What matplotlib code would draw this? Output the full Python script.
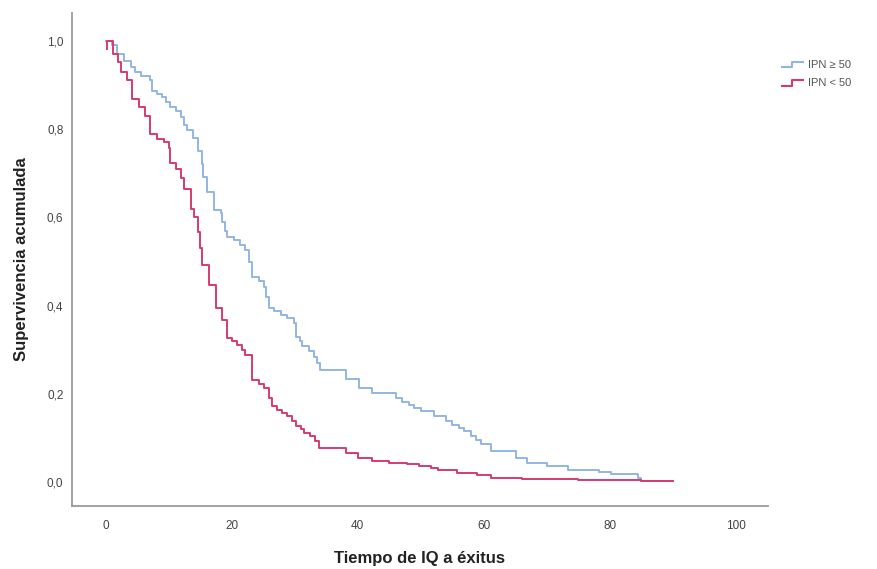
import numpy as np
import matplotlib
matplotlib.use('Agg')
import matplotlib.pyplot as plt
from matplotlib.lines import Line2D
from matplotlib.legend_handler import HandlerBase
from matplotlib import rcParams

rcParams['font.family'] = ['Liberation Sans', 'DejaVu Sans']

# Kaplan-Meier steps (time, survival after the step)
t_hi = [0, 1.0, 1.85, 2.9, 4.0, 4.6, 5.6, 7.1, 7.4, 8.2, 9.0, 9.6, 10.3, 11.2,
        11.9, 12.4, 13.0, 13.8, 14.6, 15.3, 15.5, 16.1, 17.2, 18.3, 18.5,
        19.0, 19.3, 20.4, 21.4, 22.2, 22.8, 23.3, 24.3, 25.1, 25.5, 25.9,
        26.7, 27.8, 28.8, 29.9, 30.2, 30.8, 31.2, 32.3, 33.1, 33.6, 34.1,
        38.1, 40.2, 42.3, 46.0, 47.0, 48.1, 49.0, 50.0, 52.1, 54.0, 55.0,
        56.0, 56.9, 58.0, 58.7, 59.5, 61.1, 65.1, 66.9, 70.1, 73.3, 78.3,
        80.2, 84.4, 85.0, 90.0]
s_hi = [1.0, 0.989, 0.97, 0.955, 0.94, 0.93, 0.92, 0.91, 0.887, 0.88, 0.872,
        0.862, 0.85, 0.84, 0.827, 0.81, 0.797, 0.78, 0.75, 0.72, 0.692,
        0.658, 0.616, 0.609, 0.59, 0.57, 0.556, 0.549, 0.537, 0.526, 0.50,
        0.466, 0.455, 0.443, 0.42, 0.394, 0.387, 0.379, 0.372, 0.36, 0.33,
        0.32, 0.308, 0.297, 0.285, 0.27, 0.255, 0.233, 0.214, 0.203, 0.191,
        0.183, 0.176, 0.168, 0.161, 0.15, 0.14, 0.131, 0.124, 0.116, 0.105,
        0.097, 0.088, 0.071, 0.056, 0.044, 0.038, 0.029, 0.023, 0.018, 0.01,
        0.004, 0.004]

t_lo = [0.26, 0.26, 1.15, 1.95, 2.4, 3.4, 4.2, 5.3, 6.3, 7.1, 8.2, 9.3, 10.0,
        10.3, 11.1, 12.0, 12.4, 13.5, 14.0, 14.6, 15.0, 15.3, 16.4, 17.5,
        18.5, 19.3, 20.1, 20.9, 21.7, 22.2, 23.3, 24.3, 25.1, 26.0, 26.4,
        27.2, 28.0, 28.8, 29.6, 30.2, 31.0, 31.5, 32.5, 33.3, 33.9, 38.1,
        40.0, 42.3, 45.0, 47.9, 49.7, 51.6, 52.7, 55.8, 59.0, 61.1, 66.0,
        75.0, 85.0, 90.0]
s_lo = [0.98, 1.0, 0.97, 0.951, 0.929, 0.91, 0.868, 0.85, 0.83, 0.789, 0.778,
        0.77, 0.756, 0.722, 0.71, 0.69, 0.665, 0.62, 0.60, 0.567, 0.53,
        0.492, 0.447, 0.394, 0.368, 0.327, 0.319, 0.312, 0.30, 0.289, 0.232,
        0.222, 0.214, 0.19, 0.172, 0.165, 0.158, 0.15, 0.14, 0.127, 0.12,
        0.113, 0.105, 0.093, 0.079, 0.067, 0.056, 0.048, 0.045, 0.041,
        0.037, 0.033, 0.029, 0.022, 0.016, 0.011, 0.008, 0.006, 0.003, 0.003]

labels = ['IPN \u2265 50', 'IPN < 50']
colors = ['#92b5e4', '#d63a72']


class StepHandler(HandlerBase):
    # little step symbol like the SPSS legend
    def create_artists(self, legend, orig_handle, xdescent, ydescent,
                       width, height, fontsize, trans):
        x0 = -xdescent
        xm = x0 + width * 0.45
        y0 = -ydescent + height * 0.1
        y1 = -ydescent + height * 0.75
        ln = Line2D([x0, xm, xm, x0 + width], [y0, y0, y1, y1],
                    color=orig_handle.get_color(), linewidth=1.5,
                    transform=trans)
        return [ln]


fig = plt.figure(figsize=(8.77, 5.69), dpi=100)
ax = fig.add_axes([0.0818, 0.111, 0.794, 0.8665])

p1, = ax.step(t_hi, s_hi, where='post', color=colors[0], linewidth=1.4)
p2, = ax.step(t_lo, s_lo, where='post', color=colors[1], linewidth=1.4)

ax.set_xlim(-5.36, 105.1)
ax.set_ylim(-0.053, 1.063)
ax.set_xticks([0, 20, 40, 60, 80, 100])
ax.set_yticks([0.0, 0.2, 0.4, 0.6, 0.8, 1.0])
ax.set_yticklabels(['0,0', '0,2', '0,4', '0,6', '0,8', '1,0'])
ax.tick_params(axis='both', length=0, labelsize=8.5, labelcolor='#444444')
ax.tick_params(axis='x', pad=10)
ax.tick_params(axis='y', pad=6)

ax.set_xlabel('Tiempo de IQ a \u00e9xitus', fontsize=12, fontweight='bold',
              labelpad=14, color='#222222')
ax.set_ylabel('Supervivencia acumulada', fontsize=12, fontweight='bold',
              labelpad=13, color='#222222')

ax.spines['top'].set_visible(False)
ax.spines['right'].set_visible(False)
for s in ['left', 'bottom']:
    ax.spines[s].set_color('#9a9a9a')
    ax.spines[s].set_linewidth(1.3)

leg = ax.legend([p1, p2], labels, loc='upper left',
                bbox_to_anchor=(772 / 877, 1 - 50 / 569),
                bbox_transform=fig.transFigure, frameon=False, fontsize=8,
                handlelength=1.9, handletextpad=0.45, labelspacing=0.75,
                handler_map={Line2D: StepHandler()})
for txt in leg.get_texts():
    txt.set_color('#555555')

plt.savefig('out.png', dpi=100)
